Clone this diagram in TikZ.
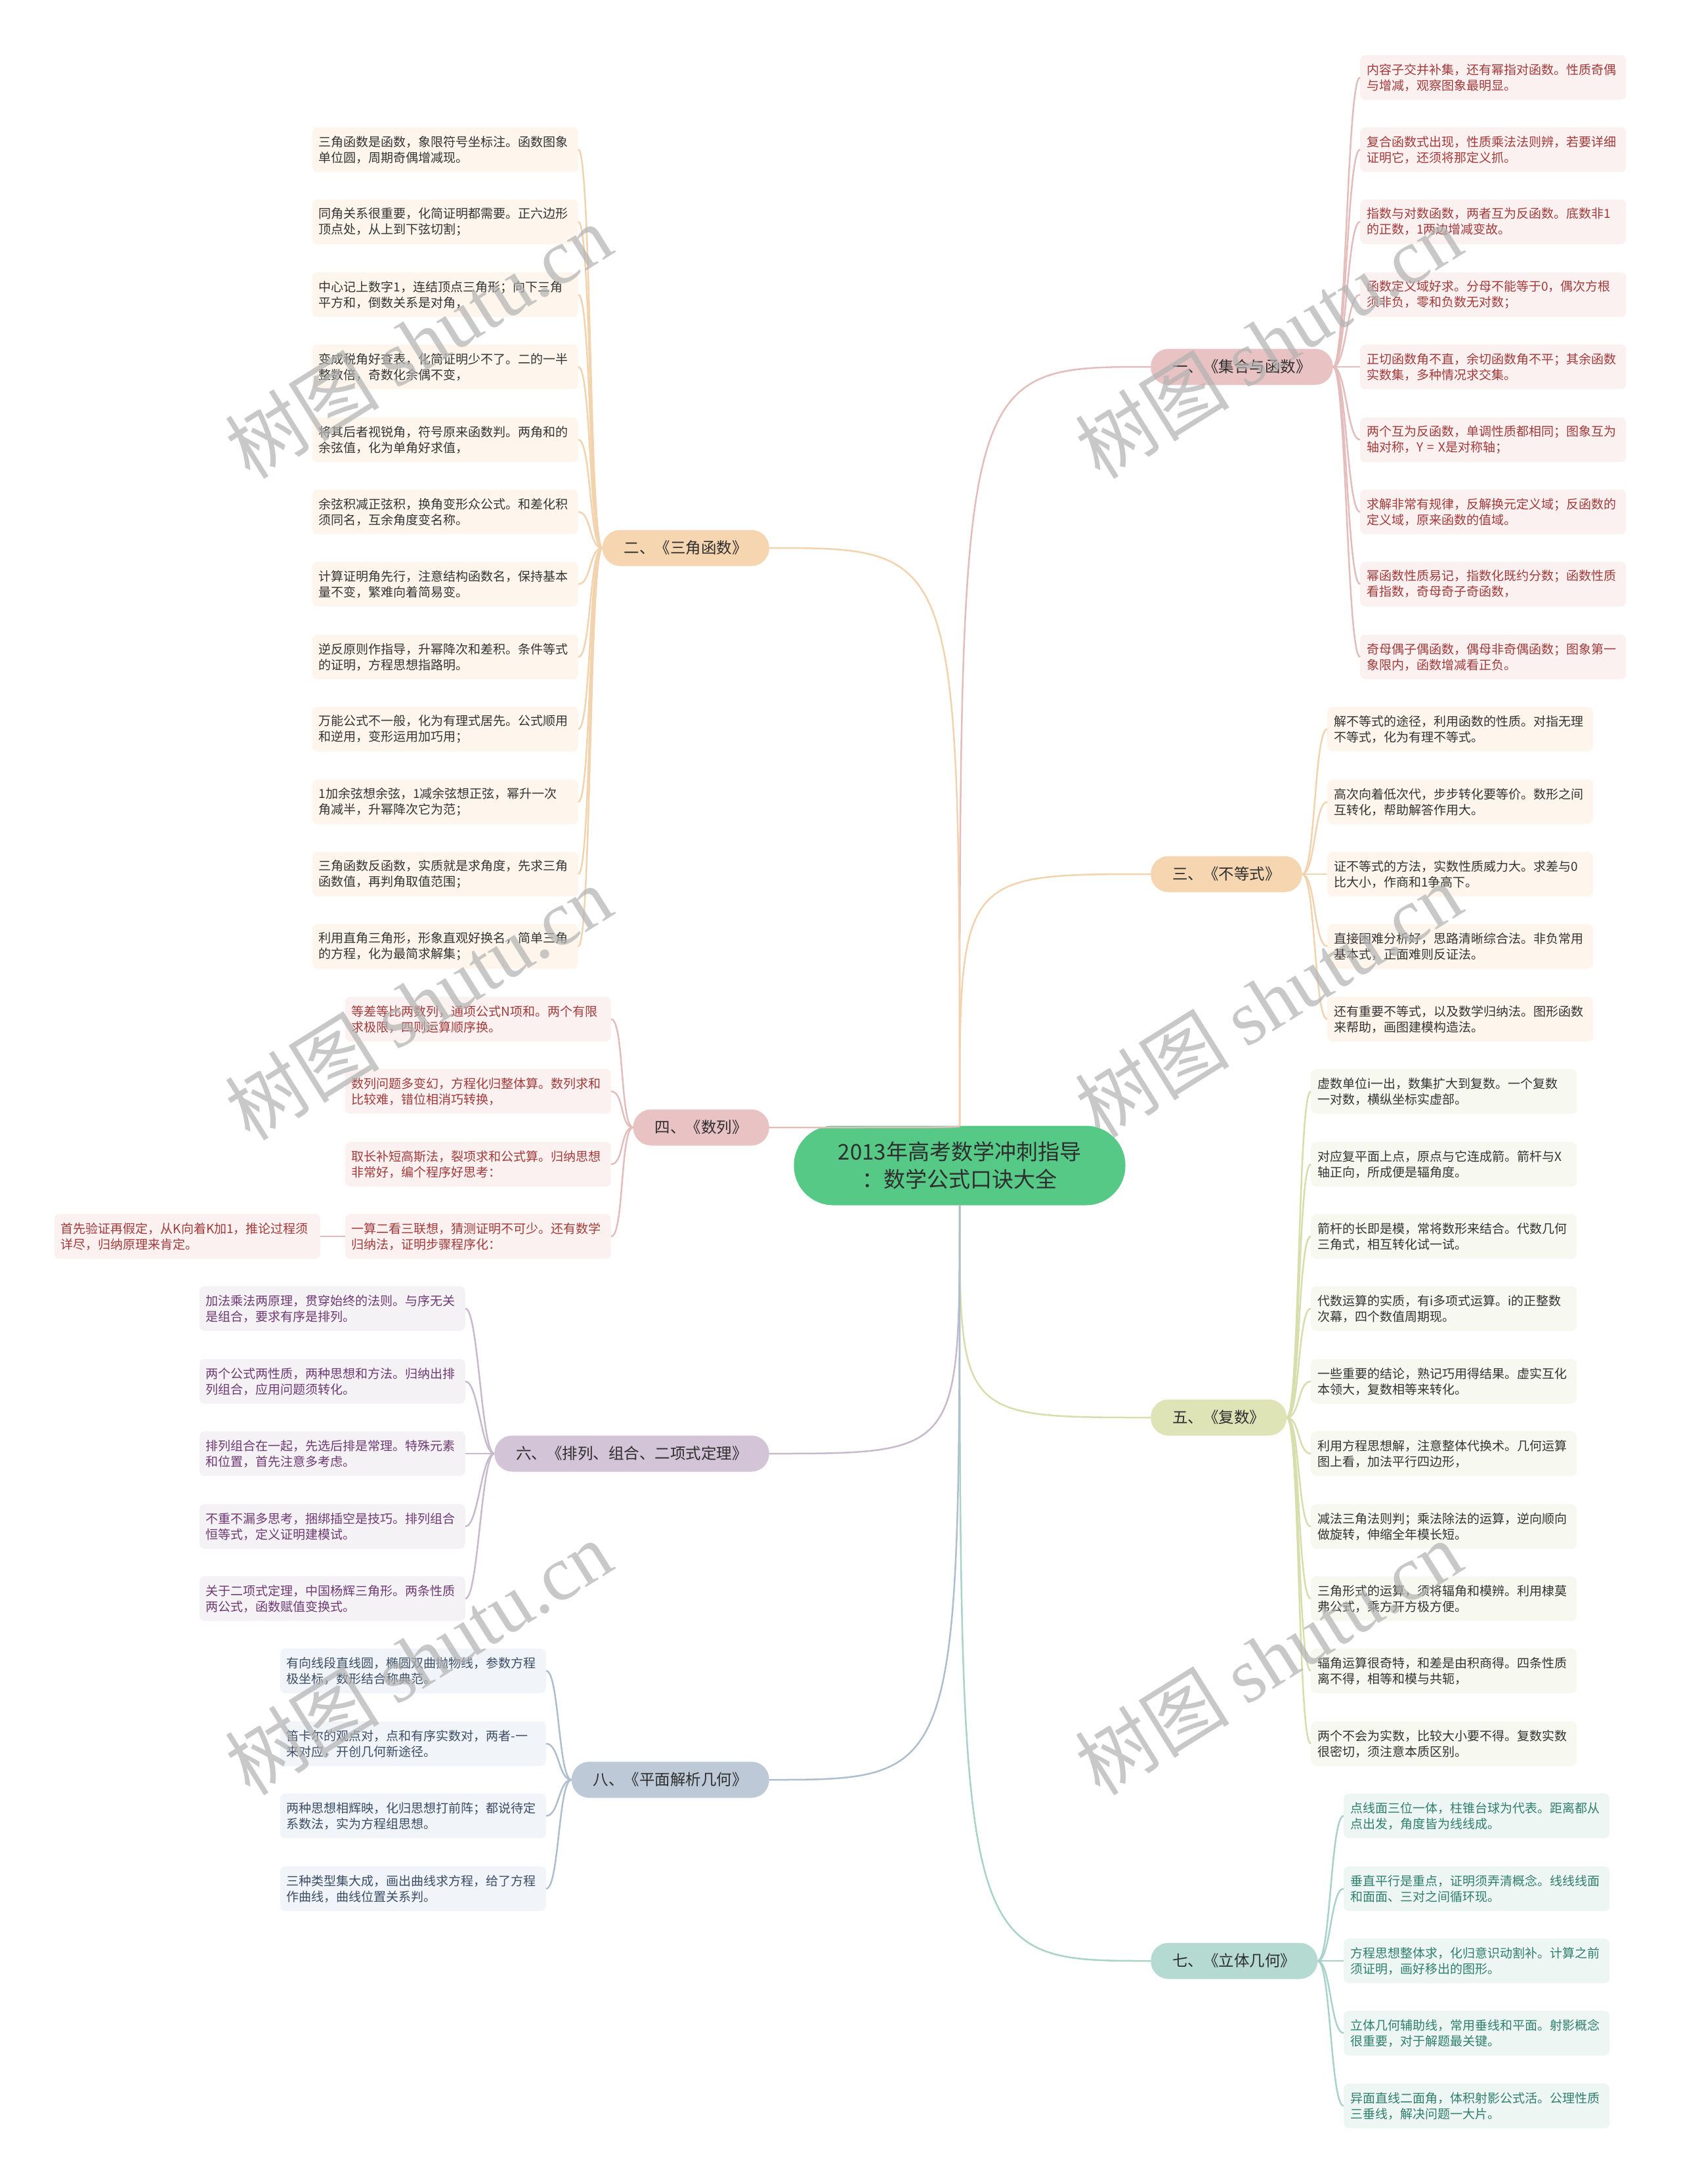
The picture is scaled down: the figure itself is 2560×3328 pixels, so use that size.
\documentclass[tikz,border=0pt]{standalone}
\usepackage{fontspec}
\setmainfont{Noto Sans CJK SC}
\newfontfamily\wmlatin{Liberation Serif}
\usetikzlibrary{positioning, calc}

\definecolor{rootgreen}{HTML}{56C987}
\definecolor{ink}{HTML}{2E2E2E}
\definecolor{pinkT}{HTML}{E9C3C3}
\definecolor{peachT}{HTML}{F5D6B1}
\definecolor{oliveT}{HTML}{DEE4B6}
\definecolor{lilacT}{HTML}{D3C4D7}
\definecolor{mintT}{HTML}{B5DAD1}
\definecolor{slateT}{HTML}{BDC9D6}
\definecolor{pinkL}{HTML}{E5BCBC}
\definecolor{peachL}{HTML}{F2D3AE}
\definecolor{oliveL}{HTML}{D7DEAB}
\definecolor{lilacL}{HTML}{C9B9CD}
\definecolor{mintL}{HTML}{A9D3C8}
\definecolor{slateL}{HTML}{AFBECF}
\definecolor{pinkF}{HTML}{FBF1F1}
\definecolor{peachF}{HTML}{FEF6EC}
\definecolor{oliveF}{HTML}{F7F8EF}
\definecolor{lilacF}{HTML}{F5F2F6}
\definecolor{mintF}{HTML}{EEF6F4}
\definecolor{slateF}{HTML}{F1F4F8}
\definecolor{pinkX}{HTML}{A33A3A}
\definecolor{grayX}{HTML}{333333}
\definecolor{lilacX}{HTML}{6E3A73}
\definecolor{mintX}{HTML}{2F7F6C}
\definecolor{slateX}{HTML}{3B4D66}

\begin{document}
\begin{tikzpicture}[
      x=1pt, y=-1pt,
      root/.style={rectangle, rounded corners=60pt, fill=rootgreen, text=ink,
                   minimum width=505pt, minimum height=121pt, align=center,
                   font=\fontsize{33}{42}\selectfont},
      topic/.style={rectangle, rounded corners=27pt, minimum height=55pt,
                    inner xsep=33pt, text=ink, font=\fontsize{23.5}{28}\selectfont},
      leaf/.style={rectangle, rounded corners=8pt, minimum height=68pt,
                   text width=385pt, inner xsep=10pt, align=left,
                   font=\fontsize{19}{24}\selectfont},
      leafA/.style={leaf, fill=pinkF, text=pinkX},
      leafB/.style={leaf, fill=peachF, text=grayX},
      leafC/.style={leaf, fill=oliveF, text=grayX},
      leafD/.style={leaf, fill=lilacF, text=lilacX},
      leafE/.style={leaf, fill=mintF, text=mintX},
      leafF/.style={leaf, fill=slateF, text=slateX},
      rlink/.style={line width=2.5pt, to path={.. controls +(20,0) and +(-20,0) .. (\tikztotarget)}},
      llink/.style={line width=2.5pt, to path={.. controls +(-20,0) and +(20,0) .. (\tikztotarget)}},
      trunk/.style={line width=2.5pt},
      wm/.style={text=black!30, opacity=0.7, rotate=32, font=\fontsize{118}{118}\selectfont}
    ]
    \fill[white] (0,0) rectangle (2560,3328);
    \useasboundingbox (0,0) rectangle (2560,3328);

    % Root
    \node[root] (root) at (1462,1776) {2013年高考数学冲刺指导\\：数学公式口诀大全};

    % Topics
    \node[topic, fill=pinkT, anchor=west] (sets) at (1753,559) {一、《集合与函数》};
    \node[topic, fill=peachT, anchor=east] (trig) at (1172,835) {二、《三角函数》};
    \node[topic, fill=peachT, anchor=west] (ineq) at (1753,1332) {三、《不等式》};
    \node[topic, fill=pinkT, anchor=east] (seq) at (1172,1718) {四、《数列》};
    \node[topic, fill=oliveT, anchor=west] (cplx) at (1753,2160) {五、《复数》};
    \node[topic, fill=lilacT, anchor=east] (comb) at (1172,2215) {六、《排列、组合、二项式定理》};
    \node[topic, fill=mintT, anchor=west] (solid) at (1753,2988) {七、《立体几何》};
    \node[topic, fill=slateT, anchor=east] (plane) at (1172,2712) {八、《平面解析几何》};

    % Leaves 1: sets and functions
    \node[leafA, anchor=west] (sets1) at (2072,118) {内容子交并补集，还有幂指对函数。性质奇偶\\与增减，观察图象最明显。};
    \node[leafA, anchor=west] (sets2) at (2072,228) {复合函数式出现，性质乘法法则辨，若要详细\\证明它，还须将那定义抓。};
    \node[leafA, anchor=west] (sets3) at (2072,338) {指数与对数函数，两者互为反函数。底数非1\\的正数，1两边增减变故。};
    \node[leafA, anchor=west] (sets4) at (2072,449) {函数定义域好求。分母不能等于0，偶次方根\\须非负，零和负数无对数；};
    \node[leafA, anchor=west] (sets5) at (2072,559) {正切函数角不直，余切函数角不平；其余函数\\实数集，多种情况求交集。};
    \node[leafA, anchor=west] (sets6) at (2072,670) {两个互为反函数，单调性质都相同；图象互为\\轴对称，Y = X是对称轴；};
    \node[leafA, anchor=west] (sets7) at (2072,780) {求解非常有规律，反解换元定义域；反函数的\\定义域，原来函数的值域。};
    \node[leafA, anchor=west] (sets8) at (2072,890) {幂函数性质易记，指数化既约分数；函数性质\\看指数，奇母奇子奇函数，};
    \node[leafA, anchor=west] (sets9) at (2072,1001) {奇母偶子偶函数，偶母非奇偶函数；图象第一\\象限内，函数增减看正负。};

    % Leaves 2: trigonometric functions
    \node[leafB, anchor=east] (trig1) at (881,228) {三角函数是函数，象限符号坐标注。函数图象\\单位圆，周期奇偶增减现。};
    \node[leafB, anchor=east] (trig2) at (881,338) {同角关系很重要，化简证明都需要。正六边形\\顶点处，从上到下弦切割；};
    \node[leafB, anchor=east] (trig3) at (881,449) {中心记上数字1，连结顶点三角形；向下三角\\平方和，倒数关系是对角，};
    \node[leafB, anchor=east] (trig4) at (881,559) {变成税角好查表，化简证明少不了。二的一半\\整数倍，奇数化余偶不变，};
    \node[leafB, anchor=east] (trig5) at (881,670) {将其后者视锐角，符号原来函数判。两角和的\\余弦值，化为单角好求值，};
    \node[leafB, anchor=east] (trig6) at (881,780) {余弦积减正弦积，换角变形众公式。和差化积\\须同名，互余角度变名称。};
    \node[leafB, anchor=east] (trig7) at (881,890) {计算证明角先行，注意结构函数名，保持基本\\量不变，繁难向着简易变。};
    \node[leafB, anchor=east] (trig8) at (881,1001) {逆反原则作指导，升幂降次和差积。条件等式\\的证明，方程思想指路明。};
    \node[leafB, anchor=east] (trig9) at (881,1111) {万能公式不一般，化为有理式居先。公式顺用\\和逆用，变形运用加巧用；};
    \node[leafB, anchor=east] (trig10) at (881,1222) {1加余弦想余弦，1减余弦想正弦，幂升一次\\角减半，升幂降次它为范；};
    \node[leafB, anchor=east] (trig11) at (881,1332) {三角函数反函数，实质就是求角度，先求三角\\函数值，再判角取值范围；};
    \node[leafB, anchor=east] (trig12) at (881,1442) {利用直角三角形，形象直观好换名，简单三角\\的方程，化为最简求解集；};

    % Leaves 3: inequalities
    \node[leafB, anchor=west] (ineq1) at (2022,1111) {解不等式的途径，利用函数的性质。对指无理\\不等式，化为有理不等式。};
    \node[leafB, anchor=west] (ineq2) at (2022,1222) {高次向着低次代，步步转化要等价。数形之间\\互转化，帮助解答作用大。};
    \node[leafB, anchor=west] (ineq3) at (2022,1332) {证不等式的方法，实数性质威力大。求差与0\\比大小，作商和1争高下。};
    \node[leafB, anchor=west] (ineq4) at (2022,1442) {直接困难分析好，思路清晰综合法。非负常用\\基本式，正面难则反证法。};
    \node[leafB, anchor=west] (ineq5) at (2022,1553) {还有重要不等式，以及数学归纳法。图形函数\\来帮助，画图建模构造法。};

    % Leaves 4: sequences
    \node[leafA, anchor=east] (seq1) at (931,1553) {等差等比两数列，通项公式N项和。两个有限\\求极限，四则运算顺序换。};
    \node[leafA, anchor=east] (seq2) at (931,1663) {数列问题多变幻，方程化归整体算。数列求和\\比较难，错位相消巧转换，};
    \node[leafA, anchor=east] (seq3) at (931,1774) {取长补短高斯法，裂项求和公式算。归纳思想\\非常好，编个程序好思考：};
    \node[leafA, anchor=east] (seq4) at (931,1884) {一算二看三联想，猜测证明不可少。还有数学\\归纳法，证明步骤程序化：};
    \node[leafA, anchor=east] (seq5) at (488,1884) {首先验证再假定，从K向着K加1，推论过程须\\详尽，归纳原理来肯定。};

    % Leaves 5: complex numbers
    \node[leafC, anchor=west] (cplx1) at (1997,1663) {虚数单位i一出，数集扩大到复数。一个复数\\一对数，横纵坐标实虚部。};
    \node[leafC, anchor=west] (cplx2) at (1997,1774) {对应复平面上点，原点与它连成箭。箭杆与X\\轴正向，所成便是辐角度。};
    \node[leafC, anchor=west] (cplx3) at (1997,1884) {箭杆的长即是模，常将数形来结合。代数几何\\三角式，相互转化试一试。};
    \node[leafC, anchor=west] (cplx4) at (1997,1994) {代数运算的实质，有i多项式运算。i的正整数\\次幕，四个数值周期现。};
    \node[leafC, anchor=west] (cplx5) at (1997,2105) {一些重要的结论，熟记巧用得结果。虚实互化\\本领大，复数相等来转化。};
    \node[leafC, anchor=west] (cplx6) at (1997,2215) {利用方程思想解，注意整体代换术。几何运算\\图上看，加法平行四边形，};
    \node[leafC, anchor=west] (cplx7) at (1997,2326) {减法三角法则判；乘法除法的运算，逆向顺向\\做旋转，伸缩全年模长短。};
    \node[leafC, anchor=west] (cplx8) at (1997,2436) {三角形式的运算，须将辐角和模辨。利用棣莫\\弗公式，乘方开方极方便。};
    \node[leafC, anchor=west] (cplx9) at (1997,2546) {辐角运算很奇特，和差是由积商得。四条性质\\离不得，相等和模与共轭，};
    \node[leafC, anchor=west] (cplx10) at (1997,2657) {两个不会为实数，比较大小要不得。复数实数\\很密切，须注意本质区别。};

    % Leaves 6: permutations and combinations
    \node[leafD, anchor=east] (comb1) at (709,1994) {加法乘法两原理，贯穿始终的法则。与序无关\\是组合，要求有序是排列。};
    \node[leafD, anchor=east] (comb2) at (709,2105) {两个公式两性质，两种思想和方法。归纳出排\\列组合，应用问题须转化。};
    \node[leafD, anchor=east] (comb3) at (709,2215) {排列组合在一起，先选后排是常理。特殊元素\\和位置，首先注意多考虑。};
    \node[leafD, anchor=east] (comb4) at (709,2326) {不重不漏多思考，捆绑插空是技巧。排列组合\\恒等式，定义证明建模试。};
    \node[leafD, anchor=east] (comb5) at (709,2436) {关于二项式定理，中国杨辉三角形。两条性质\\两公式，函数赋值变换式。};

    % Leaves 7: solid geometry
    \node[leafE, anchor=west] (solid1) at (2047,2767) {点线面三位一体，柱锥台球为代表。距离都从\\点出发，角度皆为线线成。};
    \node[leafE, anchor=west] (solid2) at (2047,2878) {垂直平行是重点，证明须弄清概念。线线线面\\和面面、三对之间循环现。};
    \node[leafE, anchor=west] (solid3) at (2047,2988) {方程思想整体求，化归意识动割补。计算之前\\须证明，画好移出的图形。};
    \node[leafE, anchor=west] (solid4) at (2047,3098) {立体几何辅助线，常用垂线和平面。射影概念\\很重要，对于解题最关键。};
    \node[leafE, anchor=west] (solid5) at (2047,3209) {异面直线二面角，体积射影公式活。公理性质\\三垂线，解决问题一大片。};

    % Leaves 8: plane analytic geometry
    \node[leafF, anchor=east] (plane1) at (832,2546) {有向线段直线圆，椭圆双曲抛物线，参数方程\\极坐标，数形结合称典范。};
    \node[leafF, anchor=east] (plane2) at (832,2657) {笛卡尔的观点对，点和有序实数对，两者-一\\来对应，开创几何新途径。};
    \node[leafF, anchor=east] (plane3) at (832,2767) {两种思想相辉映，化归思想打前阵；都说待定\\系数法，实为方程组思想。};
    \node[leafF, anchor=east] (plane4) at (832,2878) {三种类型集大成，画出曲线求方程，给了方程\\作曲线，曲线位置关系判。};

    % Links: root to topics
    \draw[trunk, pinkL] (root.north) .. controls (root.north |- sets.west) .. (sets.west);
    \draw[trunk, peachL] (root.north) .. controls (root.north |- trig.east) .. (trig.east);
    \draw[trunk, peachL] (root.north) .. controls (root.north |- ineq.west) .. (ineq.west);
    \draw[trunk, pinkL] (root.north) .. controls (root.north |- seq.east) .. (seq.east);
    \draw[trunk, oliveL] (root.south) .. controls (root.south |- cplx.west) .. (cplx.west);
    \draw[trunk, lilacL] (root.south) .. controls (root.south |- comb.east) .. (comb.east);
    \draw[trunk, mintL] (root.south) .. controls (root.south |- solid.west) .. (solid.west);
    \draw[trunk, slateL] (root.south) .. controls (root.south |- plane.east) .. (plane.east);

    % Links: topics to leaves
    \draw[rlink, pinkL] (sets.east) to (sets1.west);
    \draw[rlink, pinkL] (sets.east) to (sets2.west);
    \draw[rlink, pinkL] (sets.east) to (sets3.west);
    \draw[rlink, pinkL] (sets.east) to (sets4.west);
    \draw[rlink, pinkL] (sets.east) to (sets5.west);
    \draw[rlink, pinkL] (sets.east) to (sets6.west);
    \draw[rlink, pinkL] (sets.east) to (sets7.west);
    \draw[rlink, pinkL] (sets.east) to (sets8.west);
    \draw[rlink, pinkL] (sets.east) to (sets9.west);
    \draw[llink, peachL] (trig.west) to (trig1.east);
    \draw[llink, peachL] (trig.west) to (trig2.east);
    \draw[llink, peachL] (trig.west) to (trig3.east);
    \draw[llink, peachL] (trig.west) to (trig4.east);
    \draw[llink, peachL] (trig.west) to (trig5.east);
    \draw[llink, peachL] (trig.west) to (trig6.east);
    \draw[llink, peachL] (trig.west) to (trig7.east);
    \draw[llink, peachL] (trig.west) to (trig8.east);
    \draw[llink, peachL] (trig.west) to (trig9.east);
    \draw[llink, peachL] (trig.west) to (trig10.east);
    \draw[llink, peachL] (trig.west) to (trig11.east);
    \draw[llink, peachL] (trig.west) to (trig12.east);
    \draw[rlink, peachL] (ineq.east) to (ineq1.west);
    \draw[rlink, peachL] (ineq.east) to (ineq2.west);
    \draw[rlink, peachL] (ineq.east) to (ineq3.west);
    \draw[rlink, peachL] (ineq.east) to (ineq4.west);
    \draw[rlink, peachL] (ineq.east) to (ineq5.west);
    \draw[llink, pinkL] (seq.west) to (seq1.east);
    \draw[llink, pinkL] (seq.west) to (seq2.east);
    \draw[llink, pinkL] (seq.west) to (seq3.east);
    \draw[llink, pinkL] (seq.west) to (seq4.east);
    \draw[trunk, pinkL] (seq4.west) -- (seq5.east);
    \draw[rlink, oliveL] (cplx.east) to (cplx1.west);
    \draw[rlink, oliveL] (cplx.east) to (cplx2.west);
    \draw[rlink, oliveL] (cplx.east) to (cplx3.west);
    \draw[rlink, oliveL] (cplx.east) to (cplx4.west);
    \draw[rlink, oliveL] (cplx.east) to (cplx5.west);
    \draw[rlink, oliveL] (cplx.east) to (cplx6.west);
    \draw[rlink, oliveL] (cplx.east) to (cplx7.west);
    \draw[rlink, oliveL] (cplx.east) to (cplx8.west);
    \draw[rlink, oliveL] (cplx.east) to (cplx9.west);
    \draw[rlink, oliveL] (cplx.east) to (cplx10.west);
    \draw[llink, lilacL] (comb.west) to (comb1.east);
    \draw[llink, lilacL] (comb.west) to (comb2.east);
    \draw[llink, lilacL] (comb.west) to (comb3.east);
    \draw[llink, lilacL] (comb.west) to (comb4.east);
    \draw[llink, lilacL] (comb.west) to (comb5.east);
    \draw[rlink, mintL] (solid.east) to (solid1.west);
    \draw[rlink, mintL] (solid.east) to (solid2.west);
    \draw[rlink, mintL] (solid.east) to (solid3.west);
    \draw[rlink, mintL] (solid.east) to (solid4.west);
    \draw[rlink, mintL] (solid.east) to (solid5.west);
    \draw[llink, slateL] (plane.west) to (plane1.east);
    \draw[llink, slateL] (plane.west) to (plane2.east);
    \draw[llink, slateL] (plane.west) to (plane3.east);
    \draw[llink, slateL] (plane.west) to (plane4.east);

    % Watermarks
    \node[wm] (wm1) at (637,520) {树图 {\wmlatin shutu.cn}};
    \node[wm] (wm2) at (1932,520) {树图 {\wmlatin shutu.cn}};
    \node[wm] (wm3) at (637,1528) {树图 {\wmlatin shutu.cn}};
    \node[wm] (wm4) at (1932,1524) {树图 {\wmlatin shutu.cn}};
    \node[wm] (wm5) at (637,2526) {树图 {\wmlatin shutu.cn}};
    \node[wm] (wm6) at (1932,2526) {树图 {\wmlatin shutu.cn}};
  \end{tikzpicture}
\end{document}
